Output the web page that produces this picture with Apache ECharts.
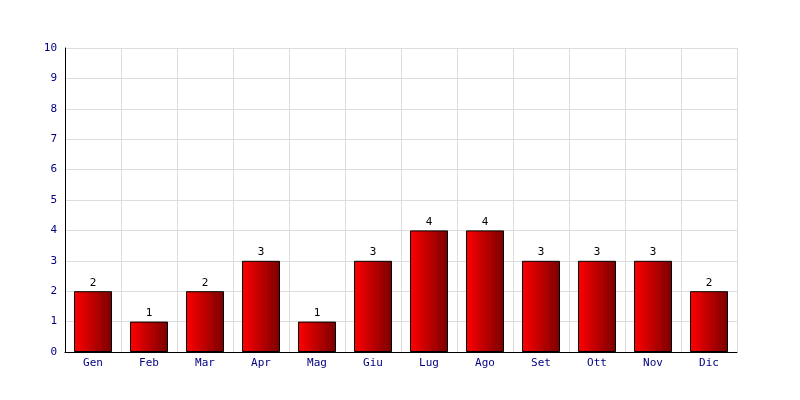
<!DOCTYPE html>
<html><head><meta charset="utf-8">
<style>html,body{margin:0;padding:0;background:#fff}#c{width:800px;height:400px}</style>
<script src="https://cdn.jsdelivr.net/npm/echarts@6/dist/echarts.min.js"></script>
</head><body><div id="c"></div>
<script>
const categories = ['Gen','Feb','Mar','Apr','Mag','Giu','Lug','Ago','Set','Ott','Nov','Dic'];
const values = [2,1,2,3,1,3,4,4,3,3,3,2];
const chart = echarts.init(document.getElementById('c'), null, {renderer:'canvas'});
const font = 'DejaVu Sans Mono';
chart.setOption({
  animation:false,
  grid:{left:65,right:63,top:48,bottom:48,containLabel:false},
  xAxis:{type:'category',data:categories,
    axisLine:{lineStyle:{color:'#000',width:1}},
    axisTick:{show:false},
    axisLabel:{color:'#000080',fontFamily:font,fontSize:11,margin:6},
    splitLine:{show:true,interval:0,lineStyle:{color:'#dddddd'}}
  },
  yAxis:{type:'value',min:0,max:10,interval:1,
    axisLine:{show:true,lineStyle:{color:'#000',width:1}},
    axisTick:{show:false},
    axisLabel:{color:'#000080',fontFamily:font,fontSize:11,margin:8},
    splitLine:{lineStyle:{color:'#dddddd'}}
  },
  series:[{type:'bar',data:values,barWidth:38,
    itemStyle:{borderColor:'#000',borderWidth:1,
      color:new echarts.graphic.LinearGradient(0,0,1,0,[{offset:0,color:'#ff0000'},{offset:1,color:'#7a0000'}])},
    label:{show:true,position:'top',color:'#000',fontFamily:font,fontSize:11,distance:3}
  }]
});
</script></body></html>
